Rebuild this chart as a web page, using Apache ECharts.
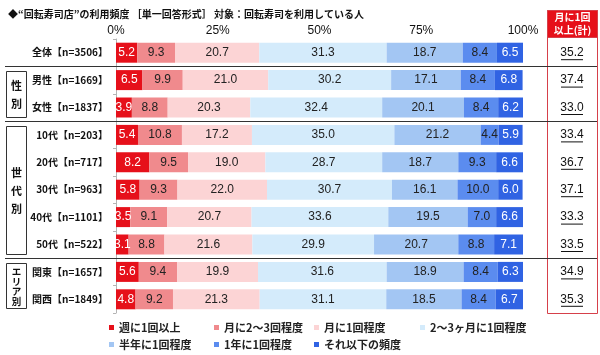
<!DOCTYPE html>
<html><head><meta charset="utf-8">
<script src="https://cdn.jsdelivr.net/npm/echarts@6/dist/echarts.min.js"></script>
<style>html,body{margin:0;padding:0;background:#fff}#c{width:600px;height:355px}</style>
</head><body><div id="c"></div>
<script>
const categories = ['全体【n=3506】','男性【n=1669】','女性【n=1837】','10代【n=203】','20代【n=717】','30代【n=963】','40代【n=1101】','50代【n=522】','関東【n=1657】','関西【n=1849】'];
const seriesNames = ['週に1回以上','月に2～3回程度','月に1回程度','2～3ヶ月に1回程度','半年に1回程度','1年に1回程度','それ以下の頻度'];
const weekly        = [5.2, 6.5, 3.9, 5.4, 8.2, 5.8, 3.5, 3.1, 5.6, 4.8];
const twoThreeMonth = [9.3, 9.9, 8.8, 10.8, 9.5, 9.3, 9.1, 8.8, 9.4, 9.2];
const onceMonth     = [20.7, 21.0, 20.3, 17.2, 19.0, 22.0, 20.7, 21.6, 19.9, 21.3];
const every23Months = [31.3, 30.2, 32.4, 35.0, 28.7, 30.7, 33.6, 29.9, 31.6, 31.1];
const halfYear      = [18.7, 17.1, 20.1, 21.2, 18.7, 16.1, 19.5, 20.7, 18.9, 18.5];
const onceYear      = [8.4, 8.4, 8.4, 4.4, 9.3, 10.0, 7.0, 8.8, 8.4, 8.4];
const lessOften     = [6.5, 6.8, 6.2, 5.9, 6.6, 6.0, 6.6, 7.1, 6.3, 6.7];
const monthlyOrMore = [35.2, 37.4, 33.0, 33.4, 36.7, 37.1, 33.3, 33.5, 34.9, 35.3];
const tickLabels = ['0%','25%','50%','75%','100%'];
const groups = [
  {text:'性\n別', from:1, to:2, lh:18, fs:11},
  {text:'世\n代\n別', from:3, to:7, lh:18, fs:11},
  {text:'エ\nリ\nア\n別', from:8, to:9, lh:10, fs:9.5}
];

const seriesData = [weekly, twoThreeMonth, onceMonth, every23Months, halfYear, onceYear, lessOften];
const colors = ['#e6101a','#f08a8d','#fcd4d5','#d4ebfb','#a3c6f3','#5b8cef','#3063e3'];
const labelColors = ['#fff','#222','#222','#222','#222','#222','#fff'];
const CJK = '"Noto Sans CJK JP", sans-serif';
const NUM = '"Liberation Sans", Arial, sans-serif';

const legendPos = [[109,322],[214,322],[314,322],[420,322],[109,339],[214,339],[314,339]];

const chart = echarts.init(document.getElementById('c'), null, {renderer:'canvas'});
const option = {
  animation:false,
  backgroundColor:'#fff',
  title:{text:'◆“回転寿司店”の利用頻度 ［単一回答形式］ 対象：回転寿司を利用している人', left:3, top:4,
    textStyle:{fontFamily:CJK, fontSize:10, fontWeight:'bold', color:'#111'}},
  legend: seriesNames.map((n,i)=>({data:[n], left:legendPos[i][0], top:legendPos[i][1], itemWidth:5, itemHeight:5, icon:'rect', padding:0,
    textStyle:{fontFamily:CJK, fontSize:11, fontWeight:'bold', color:'#222'}})),
  grid:[{left:116, right:77, top:39, height:274},{left:547, width:50, top:39, height:274}],
  xAxis:[{type:'value', position:'top', min:0, max:100, interval:25, gridIndex:0,
    axisLine:{show:false}, axisTick:{show:false}, splitLine:{show:false},
    axisLabel:{margin:2, fontFamily:NUM, fontSize:12, color:'#111', formatter:(v)=>tickLabels[Math.round(v/25)]}},
    {type:'value', gridIndex:1, min:0, max:1, show:false}],
  yAxis:[{type:'category', data:categories, inverse:true, gridIndex:0,
    axisLine:{show:true, lineStyle:{color:'#b5b5b5'}}, axisTick:{show:true, length:3, lineStyle:{color:'#b5b5b5'}},
    axisLabel:{margin:8, fontFamily:CJK, fontSize:10, fontWeight:'bold', color:'#111'}},
    {type:'category', data:categories, inverse:true, gridIndex:1, show:false}],
  series: seriesData.map((d,i)=>({
    name:seriesNames[i], type:'bar', stack:'total', data:d, barWidth:20, xAxisIndex:0, yAxisIndex:0,
    itemStyle:{color:colors[i]},
    label:{show:true, position:'inside', formatter:(p)=>p.value.toFixed(1), fontFamily:NUM, fontSize:12, color:labelColors[i]}
  })).concat([{
    type:'custom', xAxisIndex:1, yAxisIndex:1, data:monthlyOrMore.map((v,i)=>[0.5,i,v]),
    renderItem:(params, api)=>{
      const p = api.coord([api.value(0), api.value(1)]);
      const txt = api.value(2).toFixed(1);
      return {type:'group', children:[
        {type:'text', style:{text:txt, x:p[0], y:p[1], align:'center', verticalAlign:'middle', font:'12px "Liberation Sans", Arial, sans-serif', fill:'#111'}},
        {type:'line', shape:{x1:p[0]-11, y1:p[1]+7, x2:p[0]+11, y2:p[1]+7}, style:{stroke:'#111', lineWidth:1}}
      ]};
    }
  }])
};
chart.setOption(option);

// decorations derived from the axis geometry
const cy = (i)=>chart.convertToPixel({gridIndex:0},[0,i])[1];
const g = [];
[0,2,7].forEach(i=>{
  const y = Math.round((cy(i)+cy(i+1))/2)+0.5;
  g.push({type:'line', shape:{x1:5,y1:y,x2:597,y2:y}, style:{stroke:'#333', lineWidth:1}, z:10});
});
groups.forEach(gr=>{
  const y1 = Math.round(cy(gr.from)-9)+0.5, y2 = Math.round(cy(gr.to)+9)+0.5;
  g.push({type:'rect', shape:{x:6.5,y:y1,width:20,height:y2-y1}, style:{fill:'#fff', stroke:'#333', lineWidth:1}, z:10});
  g.push({type:'text', style:{text:gr.text, x:16.5, y:(y1+y2)/2, align:'center', verticalAlign:'middle', lineHeight:gr.lh,
    font:'bold '+gr.fs+'px "Noto Sans CJK JP", sans-serif', fill:'#111'}, z:11});
});
const boxBottom = Math.round(cy(9)+14)+0.5;
g.push({type:'rect', shape:{x:547.5,y:10.5,width:50,height:boxBottom-10.5}, style:{fill:'none', stroke:'#d6404a', lineWidth:1}, z:9});
g.push({type:'rect', shape:{x:547.5,y:10.5,width:50,height:27}, style:{fill:'#e6101a', stroke:'#d6404a', lineWidth:1}, z:9});
g.push({type:'text', style:{text:'月に1回\n以上(計)', x:572.5, y:24, align:'center', verticalAlign:'middle', lineHeight:13,
  font:'bold 10px "Noto Sans CJK JP", sans-serif', fill:'#fff'}, z:11});
chart.setOption({graphic:g});
</script></body></html>
